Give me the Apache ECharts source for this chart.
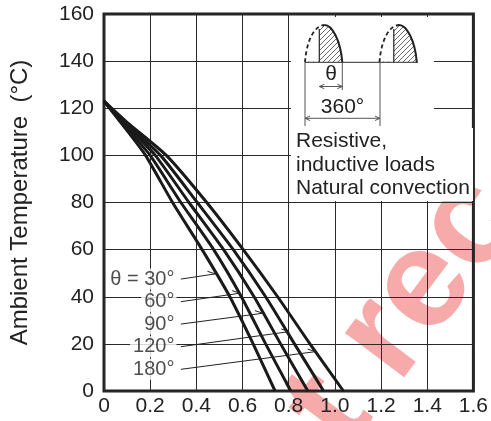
<!DOCTYPE html>
<html>
<head>
<meta charset="utf-8">
<script src="https://cdn.jsdelivr.net/npm/echarts@6/dist/echarts.min.js"></script>
<style>
  html, body { margin: 0; padding: 0; background: #fff; }
  #chart { width: 491px; height: 421px; }
</style>
</head>
<body>
<div id="chart"></div>
<script>
// Derating curves: ambient temperature vs. average on-state current, per conduction angle
const curve30  = [[0,123],[0.1,110.5],[0.18,100],[0.297,80],[0.425,60],[0.545,40],[0.646,20],[0.741,0]];
const curve60  = [[0,123],[0.1,111.5],[0.2,100],[0.333,80],[0.475,60],[0.595,40],[0.70,20],[0.809,0]];
const curve90  = [[0,123],[0.1,112.5],[0.222,100],[0.368,80],[0.518,60],[0.65,40],[0.765,20],[0.883,0]];
const curve120 = [[0,123],[0.1,113.2],[0.245,100],[0.404,80],[0.56,60],[0.70,40],[0.825,20],[0.951,0]];
const curve180 = [[0,123],[0.1,114],[0.27,100],[0.445,80],[0.603,60],[0.752,40],[0.892,20],[1.037,0]];

// Callout labels and their leader lines (start at the label, end on the curve)
const leaderLabels = ['θ = 30°', '60°', '90°', '120°', '180°'];
const leaderStart  = [[0.333,47.5],[0.333,37.9],[0.333,28.4],[0.333,18.8],[0.333,9.2]];
const leaderEnd    = [[0.482,49.7],[0.589,41.5],[0.688,33.0],[0.802,25.2],[0.916,16.7]];
// small half-arrow barb at the curve end of each leader
const barbOffset   = [-0.034, 1.1];

const xTickLabels = ['0','0.2','0.4','0.6','0.8','1.0','1.2','1.4','1.6'];
const yTickLabels = ['0','20','40','60','80','100','120','140','160'];

const noteLines = ['Resistive,', 'inductive loads', 'Natural convection'];

const FONT = "'Liberation Sans', Arial, Helvetica, sans-serif";
const INK = '#222';

const chart = echarts.init(document.getElementById('chart'), null, { renderer: 'canvas' });

// hatch tile for the conduction part of the waveform
function hatchTile() {
  const c = document.createElement('canvas');
  c.width = 5; c.height = 5;
  const g = c.getContext('2d');
  g.strokeStyle = '#444';
  g.lineWidth = 0.8;
  g.beginPath();
  g.moveTo(-1, 6); g.lineTo(6, -1);
  g.moveTo(-1, 1); g.lineTo(1, -1);
  g.moveTo(4, 6); g.lineTo(6, 4);
  g.stroke();
  return c;
}
const hatch = { image: hatchTile(), repeat: 'repeat' };

// cubic bezier sampler for the filled outline of the pictogram
function bez(p0, p1, p2, p3, n) {
  const pts = [];
  for (let k = 0; k <= n; k++) {
    const t = k / n, u = 1 - t;
    pts.push([
      u*u*u*p0[0] + 3*u*u*t*p1[0] + 3*u*t*t*p2[0] + t*t*t*p3[0],
      u*u*u*p0[1] + 3*u*u*t*p1[1] + 3*u*t*t*p2[1] + t*t*t*p3[1]
    ]);
  }
  return pts;
}

// half-wave pictogram pieces, dx shifts the second cycle
function halfWave(dx) {
  const L = [[305+dx,62.3],[306.5+dx,40],[315+dx,25],[324.5+dx,25]];
  const R = [[324.5+dx,25],[332+dx,25],[340.5+dx,40],[342.3+dx,62.3]];
  const cut = 319.3 + dx;
  const outline = bez(...L, 16).concat(bez(...R, 16).slice(1));
  const toBez = (P) => ({ x1: P[0][0], y1: P[0][1], cpx1: P[1][0], cpy1: P[1][1],
                          cpx2: P[2][0], cpy2: P[2][1], x2: P[3][0], y2: P[3][1] });
  return [
    { type: 'polygon', z: 11, shape: { points: outline }, style: { fill: hatch, stroke: null } },
    { type: 'rect', z: 12, shape: { x: 303 + dx, y: 20, width: cut - 303 - dx, height: 41.5 },
      style: { fill: '#fff' } },
    { type: 'bezierCurve', z: 13, shape: toBez(L),
      style: { fill: null, stroke: INK, lineWidth: 1.8, lineDash: [4, 3] } },
    { type: 'bezierCurve', z: 13, shape: toBez(R),
      style: { fill: null, stroke: INK, lineWidth: 2 } },
    { type: 'line', z: 13, shape: { x1: cut, y1: 29, x2: cut, y2: 62.3 },
      style: { stroke: INK, lineWidth: 1.2 } }
  ];
}

// dimension arrow with open heads at both ends
function dimArrow(x1, x2, y) {
  const h = 5, w = 2.2;
  return [
    { type: 'line', z: 13, shape: { x1, y1: y, x2, y2: y }, style: { stroke: '#555', lineWidth: 1 } },
    { type: 'polyline', z: 13, shape: { points: [[x1 + h, y - w], [x1, y], [x1 + h, y + w]] },
      style: { stroke: '#555', fill: null, lineWidth: 1 } },
    { type: 'polyline', z: 13, shape: { points: [[x2 - h, y - w], [x2, y], [x2 - h, y + w]] },
      style: { stroke: '#555', fill: null, lineWidth: 1 } }
  ];
}
function vline(x, y1, y2) {
  return { type: 'line', z: 13, shape: { x1: x, y1, x2: x, y2 }, style: { stroke: '#555', lineWidth: 1 } };
}

const graphics = [
  // watermark
  { type: 'text', z: -1, x: 316, y: 430, rotation: 53 * Math.PI / 180,
    style: { text: 't rec', font: `bold 140px ${FONT}`, fill: '#f7aaaa',
             textAlign: 'left', textVerticalAlign: 'middle' } },
  // white panels behind the pictogram and the note
  { type: 'rect', z: 10, shape: { x: 291, y: 17, width: 143, height: 112 }, style: { fill: '#fff' } },
  { type: 'rect', z: 10, shape: { x: 291, y: 128, width: 182, height: 73 }, style: { fill: '#fff' } },
  // baseline of the waveform
  { type: 'line', z: 13, shape: { x1: 305, y1: 62.3, x2: 418, y2: 62.3 }, style: { stroke: '#555', lineWidth: 1.3 } },
  ...halfWave(0),
  ...halfWave(74.5),
  vline(342.3, 62.3, 90), vline(305, 62.3, 126), vline(380, 62.3, 126),
  ...dimArrow(319.3, 342.3, 86.5),
  ...dimArrow(305, 380, 118.3),
  { type: 'text', z: 13, x: 331, y: 74,
    style: { text: 'θ', font: `21px ${FONT}`, fill: INK, textAlign: 'center', textVerticalAlign: 'middle' } },
  { type: 'text', z: 13, x: 342.5, y: 107.5,
    style: { text: '360°', font: `21px ${FONT}`, fill: INK, textAlign: 'center', textVerticalAlign: 'middle' } },
  ...noteLines.map((t, i) => ({
    type: 'text', z: 13, x: 296, y: 141.5 + i * 23.3,
    style: { text: t, font: `21px ${FONT}`, fill: INK, textAlign: 'left', textVerticalAlign: 'middle' }
  }))
];

const curves = [curve30, curve60, curve90, curve120, curve180];

const series = curves.map((d) => ({
  type: 'line',
  data: d,
  symbol: 'none',
  smooth: 0.2,
  lineStyle: { color: '#1a1a1a', width: 3 },
  z: 3,
  silent: true
}));

leaderLabels.forEach((txt, i) => {
  const e = leaderEnd[i];
  series.push({
    type: 'line',
    data: [leaderStart[i], e, [e[0] + barbOffset[0], e[1] + barbOffset[1]]],
    symbol: 'none',
    lineStyle: { color: INK, width: 1 },
    z: 4,
    silent: true
  });
  series.push({
    type: 'scatter',
    data: [leaderStart[i]],
    symbolSize: 1,
    itemStyle: { color: 'rgba(0,0,0,0)' },
    z: 5,
    silent: true,
    label: {
      show: true,
      position: 'left',
      distance: 4,
      formatter: txt,
      fontFamily: FONT,
      fontSize: 20,
      color: INK,
      backgroundColor: '#fff',
      padding: [1, 2, 0, 3]
    }
  });
});

chart.setOption({
  animation: false,
  backgroundColor: '#fff',
  grid: {
    left: 102, right: 14, top: 14, bottom: 30,
    show: true, borderColor: '#222', borderWidth: 3, backgroundColor: 'transparent'
  },
  xAxis: {
    type: 'value', min: 0, max: 1.6, interval: 0.2,
    axisLine: { show: false }, axisTick: { show: false },
    splitLine: { show: true, lineStyle: { color: '#2a2a2a', width: 1 } },
    axisLabel: {
      margin: 5, fontFamily: FONT, fontSize: 21, color: INK,
      formatter: (v, i) => xTickLabels[i]
    }
  },
  yAxis: {
    type: 'value', min: 0, max: 160, interval: 20,
    name: 'Ambient Temperature  (°C)',
    nameLocation: 'middle', nameRotate: 90, nameGap: 72,
    nameTextStyle: { fontFamily: FONT, fontSize: 24, color: INK },
    axisLine: { show: false }, axisTick: { show: false },
    splitLine: { show: true, lineStyle: { color: '#2a2a2a', width: 1 } },
    axisLabel: {
      margin: 10, fontFamily: FONT, fontSize: 21, color: INK,
      formatter: (v, i) => yTickLabels[i]
    }
  },
  graphic: graphics,
  series
});
</script>
</body>
</html>
